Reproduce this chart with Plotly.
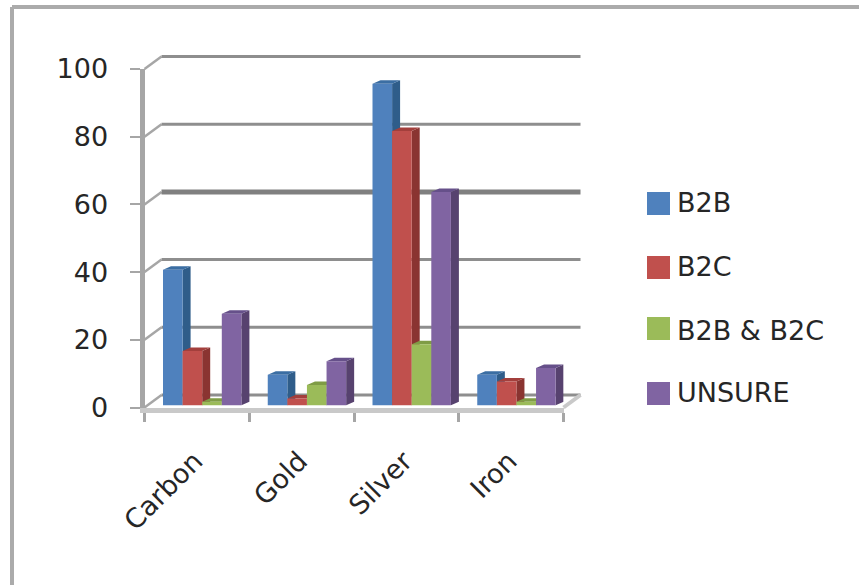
import plotly.graph_objects as go

# Chart data
categories = ["Carbon", "Gold", "Silver", "Iron"]
series_names = ["B2B", "B2C", "B2B & B2C", "UNSURE"]
b2b = [40, 9, 95, 9]
b2c = [16, 2, 81, 7]
b2b_b2c = [1, 6, 18, 1]
unsure = [27, 13, 63, 11]
y_ticks = [0, 20, 40, 60, 80, 100]

front_colors = ["#4F81BD", "#C0504D", "#9BBB59", "#8064A2"]
side_colors = ["#2F5D8A", "#8A3431", "#6F8A3A", "#57426F"]
top_colors = ["#3B6EA3", "#A33F3C", "#7F9C45", "#66508A"]

W, H = 859, 585
X0, X1 = 144.5, 563.5          # front floor edge, pixels
Y0, Y100 = 407.5, 69.0         # value 0 and value 100, pixels
PX_X = (X1 - X0) / len(categories)
PX_Y = (Y0 - Y100) / 100

# Depth of the walls and of the columns, expressed in axis units
WALL_DX, WALL_DY = 17 / PX_X, 12.5 / PX_Y
BAR_DX, BAR_DY = 8 / PX_X, 3.5 / PX_Y
BAR_LIFT = 2.3 / PX_Y          # columns stand slightly behind the front edge
BAR_START = 18.5 / PX_X
BAR_W = 19.6 / PX_X

# The wall subplot is padded so the receding lines are not cut at the plot edge
PAD_L, PAD_R, PAD_T, PAD_B = 10, 30, 30, 10

GRID = "#8E8E8E"
FLOOR = "#C9C9C9"
AXIS = "#A6A6A6"
TEXT = "#262626"
FONT = "DejaVu Sans"
FS = 27

fig = go.Figure()
n = len(categories)

# Back wall gridlines with their diagonal connectors
for v in y_ticks:
    fig.add_trace(go.Scatter(
        x=[0, WALL_DX], y=[v, v + WALL_DY],
        mode="lines", showlegend=False, hoverinfo="skip",
        line=dict(color=AXIS, width=2.5),
    ))
    fig.add_trace(go.Scatter(
        x=[WALL_DX, n + WALL_DX], y=[v + WALL_DY, v + WALL_DY],
        mode="lines", showlegend=False, hoverinfo="skip",
        line=dict(color="#808080" if v == 60 else GRID, width=5 if v == 60 else 3),
    ))
fig.add_trace(go.Scatter(
    x=[n, n + WALL_DX], y=[0, WALL_DY], mode="lines", showlegend=False,
    hoverinfo="skip", line=dict(color=FLOOR, width=4),
))

all_values = [b2b, b2c, b2b_b2c, unsure]

# Side and top faces of each column, behind every front face
for s, values in enumerate(all_values):
    side_x, side_y, top_x, top_y = [], [], [], []
    for i, v in enumerate(values):
        xl = i + BAR_START + s * BAR_W
        xr = xl + BAR_W
        t = v + BAR_LIFT
        side_x += [xr, xr + BAR_DX, xr + BAR_DX, xr, xr, None]
        side_y += [BAR_LIFT, BAR_LIFT + BAR_DY, t + BAR_DY, t, BAR_LIFT, None]
        top_x += [xl, xl + BAR_DX, xr + BAR_DX, xr, xl, None]
        top_y += [t, t + BAR_DY, t + BAR_DY, t, t, None]
    for xs, ys, col in ((side_x, side_y, side_colors[s]), (top_x, top_y, top_colors[s])):
        fig.add_trace(go.Scatter(
            x=xs, y=ys, mode="lines", fill="toself", fillcolor=col,
            line=dict(width=0, color=col), showlegend=False, hoverinfo="skip",
            xaxis="x2", yaxis="y2",
        ))

# Front faces live on an overlaid pair of axes so they paint above the depth faces
for s, values in enumerate(all_values):
    fig.add_trace(go.Bar(
        x=list(range(n)), y=values, name=series_names[s],
        width=BAR_W, offset=BAR_START + s * BAR_W,
        marker=dict(color=front_colors[s], line=dict(width=0)),
        xaxis="x3", yaxis="y3",
    ))

x_domain = [X0 / W, X1 / W]
y_domain = [1 - Y0 / H, 1 - Y100 / H]
label_shift = -0.02

fig.update_layout(
    width=W, height=H, autosize=False,
    margin=dict(l=0, r=0, t=0, b=0, autoexpand=False),
    paper_bgcolor="white", plot_bgcolor="rgba(0,0,0,0)",
    barmode="overlay", showlegend=False,
    font=dict(family=FONT, size=FS, color=TEXT),
    # hidden, padded axes carrying the walls
    xaxis=dict(
        domain=[(X0 - PAD_L) / W, (X1 + PAD_R) / W],
        range=[-PAD_L / PX_X, n + PAD_R / PX_X], visible=False, anchor="y",
    ),
    yaxis=dict(
        domain=[1 - (Y0 + PAD_B) / H, 1 - (Y100 - PAD_T) / H],
        range=[-PAD_B / PX_Y, 100 + PAD_T / PX_Y], visible=False, anchor="x",
    ),
    # visible axes of the chart
    xaxis2=dict(
        domain=x_domain, range=[0, n], showgrid=False, zeroline=False, anchor="y2",
        showline=True, linecolor=FLOOR, linewidth=5, automargin=False,
        tickmode="array",
        tickvals=[i + 0.5 + label_shift for i in range(n)],
        ticktext=categories, tickangle=-45, ticks="outside", ticklen=22,
        tickcolor="rgba(0,0,0,0)", tickfont=dict(size=FS),
        minor=dict(tickmode="array", tickvals=list(range(n + 1)), ticks="outside",
                   ticklen=9, tickwidth=3, tickcolor=AXIS, showgrid=False),
    ),
    yaxis2=dict(
        domain=y_domain, range=[0, 100], showgrid=False, zeroline=False, anchor="x2",
        showline=True, linecolor=AXIS, linewidth=5, automargin=False,
        tickmode="array", tickvals=y_ticks, ticks="outside", ticklen=10,
        tickwidth=2, tickcolor=AXIS, ticklabelstandoff=16,
    ),
    xaxis3=dict(overlaying="x2", range=[0, n], visible=False, anchor="y3"),
    yaxis3=dict(overlaying="y2", range=[-BAR_LIFT, 100 - BAR_LIFT], visible=False, anchor="x3"),
)

# Outer chart frame, open towards the right and bottom edges
for x0, y0, x1, y1 in ((12 / W, 1 - 7 / H, 1.02, 1 - 7 / H),
                       (12 / W, 1 - 7 / H, 12 / W, -0.02)):
    fig.add_shape(type="line", xref="paper", yref="paper", x0=x0, y0=y0, x1=x1, y1=y1,
                  line=dict(color="#ABABAB", width=4), layer="below")

# Legend swatches and labels
legend_rows = [203.5, 267.5, 328.5, 393.5]
label_rows = [202.5, 266.5, 330.5, 392.5]
for name, color, cy, ly in zip(series_names, front_colors, legend_rows, label_rows):
    fig.add_shape(type="rect", xref="paper", yref="paper",
                  x0=647 / W, x1=670 / W, y0=1 - (cy + 11.5) / H, y1=1 - (cy - 11.5) / H,
                  fillcolor=color, line=dict(width=0))
    fig.add_annotation(xref="paper", yref="paper", x=675 / W, y=1 - ly / H, text=name,
                       showarrow=False, xanchor="left", yanchor="middle",
                       font=dict(family=FONT, size=FS, color=TEXT))

fig.write_html("out.html")
